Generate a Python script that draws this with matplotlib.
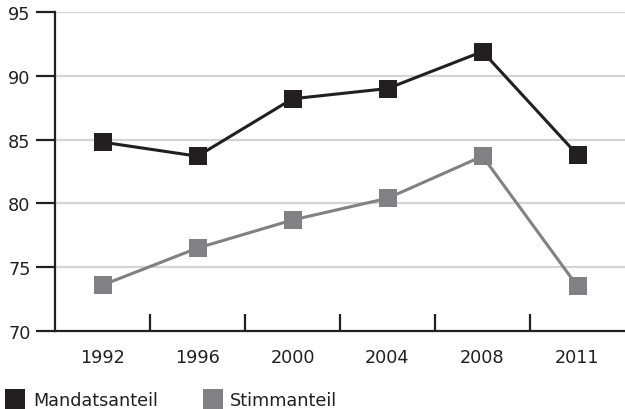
import matplotlib.pyplot as plt
from matplotlib.lines import Line2D

years = ['1992', '1996', '2000', '2004', '2008', '2011']
mandatsanteil = [84.8, 83.7, 88.2, 89.0, 91.9, 83.8]
stimmanteil = [73.6, 76.5, 78.7, 80.4, 83.7, 73.5]
series_names = ['Mandatsanteil', 'Stimmanteil']

dark = '#231f20'
grey = '#808085'

plt.rcParams['font.family'] = 'DejaVu Sans'

fig = plt.figure(figsize=(6.25, 4.10), dpi=100)
ax = fig.add_axes([55 / 625, 1 - 332 / 410, 1 - 55 / 625, (332 - 13) / 410])

x = range(len(years))
ax.plot(x, mandatsanteil, color=dark, lw=2.2, marker='s', ms=12.3, mew=0, zorder=3)
ax.plot(x, stimmanteil, color=grey, lw=2.2, marker='s', ms=12.3, mew=0, zorder=3)

ax.set_xlim(-0.5, len(years) - 0.5)
ax.set_ylim(70, 95)
ax.set_yticks([70, 75, 80, 85, 90, 95])
for v in [75, 80, 85, 90, 95]:
    ax.axhline(v, color='#d4d4d4', lw=1.6, zorder=1)

ax.set_xticks(list(x))
ax.set_xticklabels(years)
ax.set_xticks([i + 0.5 for i in range(len(years) - 1)], minor=True)
ax.tick_params(axis='x', which='major', length=0, pad=12, labelsize=12.7, colors=dark)
ax.tick_params(axis='x', which='minor', direction='in', length=12, width=1.6, color=dark)
ax.tick_params(axis='y', direction='out', length=13.7, width=1.6, color=dark,
               pad=4, labelsize=12.7, labelcolor=dark)

for s in ['top', 'right']:
    ax.spines[s].set_visible(False)
for s in ['left', 'bottom']:
    ax.spines[s].set_color(dark)
    ax.spines[s].set_linewidth(1.6)

handles = [Line2D([], [], ls='none', marker='s', ms=14.5, mew=0, color=dark),
           Line2D([], [], ls='none', marker='s', ms=14.5, mew=0, color=grey)]
fig.legend(handles, series_names, loc='lower left', bbox_to_anchor=(-0.015, -0.038),
           ncol=2, frameon=False, fontsize=12.7, handlelength=1.0,
           handletextpad=0.5, columnspacing=2.6, labelcolor=dark)

fig.savefig('out.png', dpi=100)
